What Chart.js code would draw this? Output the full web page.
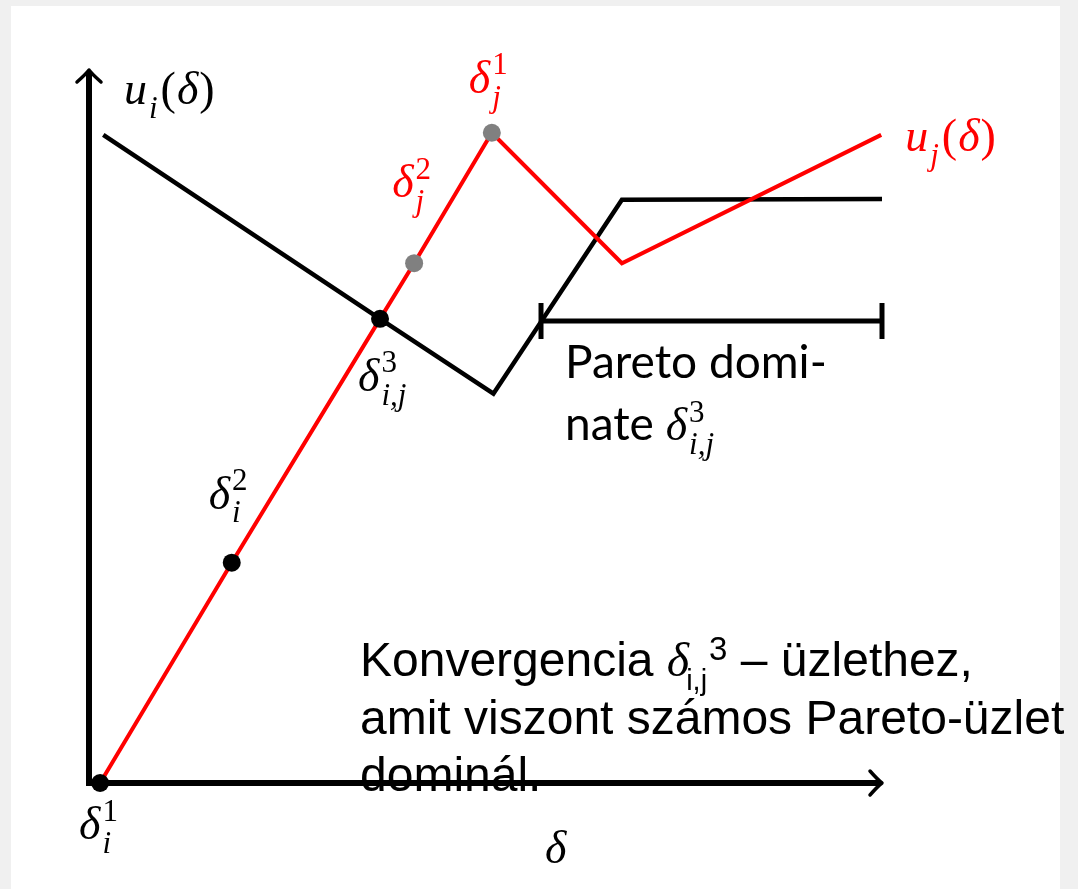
<!DOCTYPE html>
<html>
<head>
<meta charset="utf-8">
<script src="https://cdn.jsdelivr.net/npm/chart.js@4.4.1/dist/chart.umd.min.js"></script>
<style>
  html, body { margin: 0; padding: 0; background: #f0f0f0; overflow: hidden; }
  #wrap { position: absolute; left: 0; top: 0; width: 1078px; height: 889px; }
</style>
</head>
<body>
<div id="wrap"><canvas id="paretoChart" width="1078" height="889"></canvas></div>
<script>
// u_i(delta) - black utility curve
const uiX = [0.18, 3.67, 5.10, 6.72, 10.0];
const uiY = [9.09, 6.51, 5.46, 8.18, 8.19];
// u_j(delta) - red utility curve
const ujX = [0.14, 1.80, 3.67, 4.10, 5.08, 6.72, 9.99];
const ujY = [0.00, 3.09, 6.51, 7.29, 9.12, 7.29, 9.09];
// offers marked on the red curve
const offerNames = ['δi1', 'δi2', 'δij3', 'δj2', 'δj1'];
const offerX = [0.14, 1.80, 3.67, 4.10, 5.08];
const offerY = [0.00, 3.09, 6.51, 7.29, 9.12];
const offerColors = ['#000000', '#000000', '#000000', '#808080', '#808080'];
// range of offers that Pareto dominate delta_ij^3
const paretoX = [5.70, 10.0];
const paretoY = [6.48, 6.48];

const MATH = '"Liberation Serif", "DejaVu Serif", serif';
const SANS = 'Lato, "Open Sans", sans-serif';
const RED = '#ff0000';

function pts(xs, ys) {
  return xs.map(function(x, i) { return { x: x, y: ys[i] }; });
}

// draws simple math: parts are {t, it} or {sub, sup}
function drawMath(ctx, x, y, parts, color, size) {
  ctx.save();
  ctx.fillStyle = color;
  ctx.textAlign = 'left';
  ctx.textBaseline = 'alphabetic';
  let cx = x;
  parts.forEach(function(p) {
    if (p.sub !== undefined || p.sup !== undefined) {
      const s = Math.round(size * 0.68);
      let w = 0;
      if (p.sup) {
        ctx.font = s + 'px ' + MATH;
        ctx.fillText(p.sup, cx + 1, y - size * 0.4);
        w = Math.max(w, ctx.measureText(p.sup).width);
      }
      if (p.sub) {
        ctx.font = 'italic ' + s + 'px ' + MATH;
        ctx.fillText(p.sub, cx + 1, y + size * 0.3);
        w = Math.max(w, ctx.measureText(p.sub).width);
      }
      cx += w + 4;
    } else {
      ctx.font = (p.it ? 'italic ' : '') + size + 'px ' + MATH;
      ctx.fillText(p.t, cx, y);
      cx += ctx.measureText(p.t).width + 1;
    }
  });
  ctx.restore();
  return cx;
}

const bgPlugin = {
  id: 'bg',
  beforeDraw: function(chart) {
    const ctx = chart.ctx;
    ctx.save();
    ctx.fillStyle = '#f0f0f0';
    ctx.fillRect(0, 0, chart.width, chart.height);
    ctx.fillStyle = '#ffffff';
    ctx.fillRect(11, 6, 1049, 883);
    ctx.restore();
  }
};

const axesPlugin = {
  id: 'arrowAxes',
  beforeDatasetsDraw: function(chart) {
    const ctx = chart.ctx;
    const xs = chart.scales.x, ys = chart.scales.y;
    const x0 = xs.getPixelForValue(0), x1 = xs.getPixelForValue(10);
    const y0 = ys.getPixelForValue(0), y1 = ys.getPixelForValue(10);
    ctx.save();
    ctx.strokeStyle = '#000';
    ctx.lineWidth = 6;
    ctx.lineCap = 'butt';
    ctx.beginPath();
    ctx.moveTo(x0, y0 + 3);
    ctx.lineTo(x0, y1 + 2);
    ctx.moveTo(x0 - 3, y0);
    ctx.lineTo(x1 - 2, y0);
    ctx.stroke();
    // arrow heads
    ctx.lineWidth = 3.5;
    ctx.lineCap = 'round';
    ctx.lineJoin = 'round';
    ctx.beginPath();
    ctx.moveTo(x0 - 12, y1 + 12);
    ctx.quadraticCurveTo(x0 - 3, y1 + 4, x0, y1);
    ctx.quadraticCurveTo(x0 + 3, y1 + 4, x0 + 12, y1 + 12);
    ctx.moveTo(x1 - 12, y0 - 12);
    ctx.quadraticCurveTo(x1 - 4, y0 - 3, x1, y0);
    ctx.quadraticCurveTo(x1 - 4, y0 + 3, x1 - 12, y0 + 12);
    ctx.stroke();
    ctx.restore();
  }
};

const labelPlugin = {
  id: 'labels',
  afterDraw: function(chart) {
    const ctx = chart.ctx;
    const xs = chart.scales.x, ys = chart.scales.y;
    const px = function(i) { return xs.getPixelForValue(offerX[i]); };
    const py = function(i) { return ys.getPixelForValue(offerY[i]); };
    const S = 46;

    // curve names
    drawMath(ctx, 124, 104, [{ t: 'u', it: true }, { sub: 'i' }, { t: '(', it: false }, { t: 'δ', it: true }, { t: ')', it: false }], '#000', S);
    drawMath(ctx, xs.getPixelForValue(ujX[6]) + 24, ys.getPixelForValue(ujY[6]) + 16,
      [{ t: 'u', it: true }, { sub: 'j' }, { t: '(', it: false }, { t: 'δ', it: true }, { t: ')', it: false }], RED, S);

    // offer labels
    drawMath(ctx, px(0) - 21, py(0) + 56, [{ t: 'δ', it: true }, { sub: 'i', sup: '1' }], '#000', S);
    drawMath(ctx, px(1) - 23, py(1) - 54, [{ t: 'δ', it: true }, { sub: 'i', sup: '2' }], '#000', S);
    drawMath(ctx, px(2) - 22, py(2) + 72, [{ t: 'δ', it: true }, { sub: 'i,j', sup: '3' }], '#000', S);
    drawMath(ctx, px(3) - 22, py(3) - 66, [{ t: 'δ', it: true }, { sub: 'j', sup: '2' }], RED, S);
    drawMath(ctx, px(4) - 23, py(4) - 40, [{ t: 'δ', it: true }, { sub: 'j', sup: '1' }], RED, S);

    // x axis name
    drawMath(ctx, 545, 863, [{ t: 'δ', it: true }], '#000', S);

    // Pareto note
    const nx = xs.getPixelForValue(paretoX[0]) + 24;
    const ny = ys.getPixelForValue(paretoY[0]);
    ctx.save();
    ctx.fillStyle = '#000';
    ctx.font = '46px ' + SANS;
    ctx.textBaseline = 'alphabetic';
    ctx.fillText('Pareto domi-', nx, ny + 57);
    ctx.fillText('nate ', nx, ny + 119);
    const nw = ctx.measureText('nate ').width;
    ctx.restore();
    drawMath(ctx, nx + nw, ny + 119, [{ t: 'δ', it: true }, { sub: 'i,j', sup: '3' }], '#000', S);

    // Hungarian caption
    const F = 48;
    const tx = 360;
    ctx.save();
    ctx.fillStyle = '#000';
    ctx.textBaseline = 'alphabetic';
    ctx.font = F + 'px "Liberation Sans", Arial, sans-serif';
    let cx = tx;
    ctx.fillText('Konvergencia ', cx, 676);
    cx += ctx.measureText('Konvergencia ').width;
    ctx.font = 'italic ' + F + 'px "Liberation Serif", serif';
    ctx.fillText('δ', cx, 676);
    cx += ctx.measureText('δ').width - 3;
    ctx.font = '29px "Liberation Sans", Arial, sans-serif';
    ctx.fillText('i,j', cx, 690);
    cx += ctx.measureText('i,j').width + 2;
    ctx.font = '33px "Liberation Sans", Arial, sans-serif';
    ctx.fillText('3', cx, 660);
    cx += ctx.measureText('3').width;
    ctx.font = F + 'px "Liberation Sans", Arial, sans-serif';
    ctx.fillText(' – üzlethez,', cx, 676);
    ctx.fillText('amit viszont számos Pareto-üzlet', tx, 734);
    ctx.fillText('dominál.', tx, 791);
    ctx.restore();
  }
};

new Chart(document.getElementById('paretoChart'), {
  type: 'scatter',
  data: {
    datasets: [
      {
        label: 'offers', data: pts(offerX, offerY), showLine: false,
        pointRadius: 9, pointBackgroundColor: offerColors, pointBorderWidth: 0, clip: false
      },
      {
        label: 'Pareto', data: pts(paretoX, paretoY), showLine: true,
        borderColor: '#000', borderWidth: 5, pointStyle: 'line', pointRadius: 18, pointRotation: 90,
        pointBorderColor: '#000', pointBorderWidth: 5, clip: false
      },
      {
        label: 'u_j', data: pts(ujX, ujY), showLine: true,
        borderColor: RED, borderWidth: 4, pointRadius: 0, clip: false
      },
      {
        label: 'u_i', data: pts(uiX, uiY), showLine: true,
        borderColor: '#000', borderWidth: 4.5, pointRadius: 0, clip: false
      }
    ]
  },
  options: {
    responsive: false,
    animation: false,
    layout: { padding: { left: 89, right: 196, top: 70, bottom: 106 } },
    scales: {
      x: { type: 'linear', min: 0, max: 10, display: false },
      y: { type: 'linear', min: 0, max: 10, display: false }
    },
    plugins: { legend: { display: false }, tooltip: { enabled: false } }
  },
  plugins: [bgPlugin, axesPlugin, labelPlugin]
});
</script>
</body>
</html>
